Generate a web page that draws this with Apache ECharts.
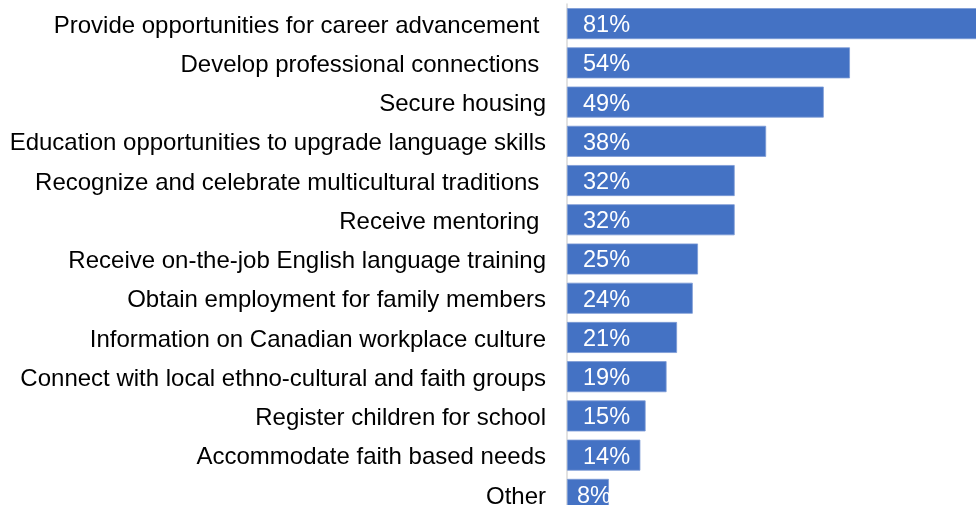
<!DOCTYPE html>
<html>
<head>
<meta charset="utf-8">
<script src="https://cdn.jsdelivr.net/npm/echarts@6/dist/echarts.min.js"></script>
<style>
  html, body { margin: 0; padding: 0; background: #ffffff; }
  #chart { width: 976px; height: 505px; }
</style>
</head>
<body>
<div id="chart"></div>
<script>
// Survey responses: share of respondents selecting each support item (%)
const categories = [
  'Provide opportunities for career advancement ',
  'Develop professional connections ',
  'Secure housing',
  'Education opportunities to upgrade language skills',
  'Recognize and celebrate multicultural traditions ',
  'Receive mentoring ',
  'Receive on-the-job English language training',
  'Obtain employment for family members',
  'Information on Canadian workplace culture',
  'Connect with local ethno-cultural and faith groups',
  'Register children for school',
  'Accommodate faith based needs',
  'Other'
];
const values = [81, 54, 49, 38, 32, 32, 25, 24, 21, 19, 15, 14, 8];

const chart = echarts.init(document.getElementById('chart'), null, { renderer: 'canvas' });

const fontFamily = 'Liberation Sans, Arial, sans-serif';

chart.setOption({
  animation: false,
  backgroundColor: '#ffffff',
  grid: {
    left: 567, width: 524, top: 4, height: 510,
    containLabel: false,
    outerBoundsMode: 'none'
  },
  xAxis: {
    type: 'value',
    min: 0,
    max: 100,
    show: false
  },
  yAxis: {
    type: 'category',
    data: categories,
    inverse: true,
    axisLine: { show: true, lineStyle: { color: '#d9d9d9', width: 1.5 } },
    axisTick: { show: false },
    axisLabel: {
      margin: 21,
      formatter: (name) => '{c|' + name + '}',
      rich: {
        c: {
          color: '#000000',
          fontFamily: fontFamily,
          fontSize: 24,
          padding: [5, 0, 0, 0]
        }
      }
    }
  },
  series: [{
    type: 'bar',
    data: values.map((v, i) => ({
      value: v,
      label: i === values.length - 1 ? { distance: 10 } : undefined
    })),
    barWidth: 31,
    itemStyle: { color: '#4472c4', borderColor: '#7c9bd6', borderWidth: 0.8 },
    label: {
      show: true,
      position: 'insideLeft',
      distance: 16,
      offset: [0, 2],
      formatter: '{c}%',
      color: '#ffffff',
      fontFamily: fontFamily,
      fontSize: 23.5
    }
  }]
});
</script>
</body>
</html>
